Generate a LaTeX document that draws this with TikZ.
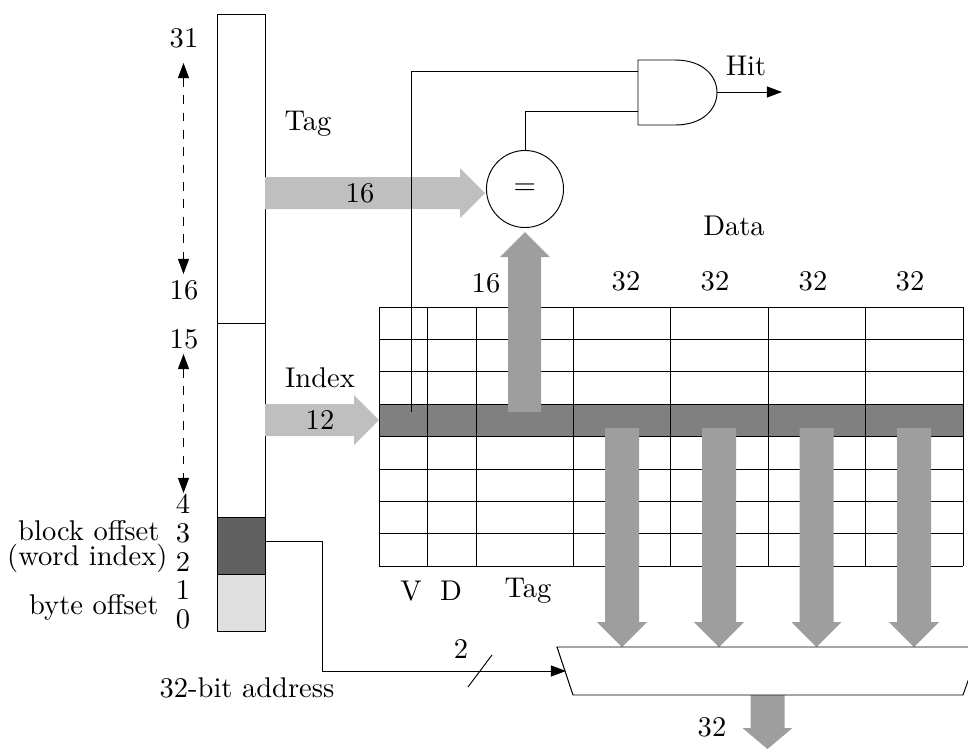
\documentclass[tikz,border=0pt]{standalone}
\usetikzlibrary{arrows.meta}
\newcommand{\bigarrowV}[5]{% x, y-from, y-to, head start, colour
  \fill[#5] (#1-17,#2) -- (#1+17,#2) -- (#1+17,#4) -- (#1+25,#4) -- (#1,#3) -- (#1-25,#4) -- (#1-17,#4) -- cycle;}
\tikzset{
  lbl/.style={inner sep=0pt,font=\fontsize{9.85}{11}\selectfont},
  wire/.style={line width=0.33pt,black},
  tipwire/.style={wire,-{Triangle[length=5.2pt,width=3.8pt]}},
  dashwire/.style={wire,dashed,{Triangle[length=5.2pt,width=3.8pt]}-{Triangle[length=5.2pt,width=3.8pt]}},
  gridline/.style={line width=0.33pt,black},
}
\begin{document}
\begin{tikzpicture}[x=0.3453pt,y=-0.3453pt]
\useasboundingbox (0,0) rectangle (968,749);
% address register
\fill[black!62] (217,517) rectangle (265,574);
\fill[black!12] (217,574) rectangle (265,631);
\draw[wire] (217,14) rectangle (265,631);
\draw[wire] (217,323) -- (265,323);
\draw[wire] (217,517) -- (265,517);
\draw[wire] (217,574) -- (265,574);
% table
\fill[black!50] (379,404) rectangle (963,436);
\foreach \y in {307,339,371,404,436,469,501,533,566} \draw[gridline] (379,\y) -- (963,\y);
\foreach \x in {379,427,476,573,670,768,865,963} \draw[gridline] (\x,307) -- (\x,566);
% wide arrows
\fill[black!25] (265,177) -- (460,177) -- (460,168) -- (485,193) -- (460,218) -- (460,209) -- (265,209) -- cycle;
\fill[black!25] (265,404) -- (354,404) -- (354,395) -- (379,420) -- (354,445) -- (354,436) -- (265,436) -- cycle;
\fill[black!38] (508,412) -- (508,257) -- (500,257) -- (525,232) -- (550,257) -- (541,257) -- (541,412) -- cycle;
\bigarrowV{622}{428}{647}{622}{black!38}
\bigarrowV{719}{428}{647}{622}{black!38}
\bigarrowV{816.5}{428}{647}{622}{black!38}
\bigarrowV{914}{428}{647}{622}{black!38}
\bigarrowV{767.5}{695}{749}{728}{black!38}
% comparator and gate
\node[draw,wire,circle,minimum size=26.6pt,inner sep=0pt,font=\fontsize{10}{12}\selectfont] (cmp) at (525,189) {$=$};
\draw[wire] (638,60) -- (675,60) .. controls (703,60) and (717,76) .. (717,92.5) .. controls (717,109) and (703,125) .. (675,125) -- (638,125) -- cycle;
\coordinate (andA) at (638,71);
\coordinate (andB) at (638,111);
\coordinate (andOut) at (717,92);
\coordinate (hitEnd) at (782,92);
\coordinate (vStart) at (411,412);
\draw[wire] (vStart) |- (andA);
\draw[wire] (cmp.north) |- (andB);
\draw[tipwire] (andOut) -- (hitEnd);
% mux
\begin{scope}
\clip (0,0) rectangle (968,749);
\draw[wire,fill=white] (557,647) -- (980,647) -- (963,695) -- (573,695) -- cycle;
\end{scope}
\coordinate (selStart) at (265,541);
\coordinate (selEnd) at (566,671);
\draw[tipwire] (selStart) -- (322,541) -- (322,671) -- (selEnd);
\coordinate (slashA) at (468,687);
\coordinate (slashB) at (492,655);
\draw[wire] (slashA) -- (slashB);
% dashed
\coordinate (da) at (183.5,63);
\coordinate (db) at (183.5,274);
\coordinate (dc) at (183.5,354);
\coordinate (dd) at (183.5,493);
\draw[dashwire] (da) -- (db);
\draw[dashwire] (dc) -- (dd);
% labels
\node[lbl] (n31) at (184,38) {31};
\node[lbl] (n16) at (184,290) {16};
\node[lbl] (n15) at (184,339) {15};
\node[lbl] (n4) at (183,504) {4};
\node[lbl] (n3) at (183,533) {3};
\node[lbl] (n2) at (183,562) {2};
\node[lbl] (n1) at (183,590) {1};
\node[lbl] (n0) at (183,619) {0};
\node[lbl,anchor=east] (blk) at (160,531) {block offset};
\node[lbl,anchor=east] (wrd) at (168,558) {(word index)};
\node[lbl,anchor=east] (byt) at (159,607) {byte offset};
\node[lbl] (addr) at (247,688) {32-bit address};
\node[lbl] (tagA) at (308,124) {Tag};
\node[lbl] (idx) at (320,378) {Index};
\node[lbl] (w16) at (360,193) {16};
\node[lbl] (w12) at (320,420) {12};
\node[lbl] (hit) at (746,66) {Hit};
\node[lbl] (data) at (734,226) {Data};
\node[lbl] (t16) at (486,283) {16};
\node[lbl] (d1) at (626,281) {32};
\node[lbl] (d2) at (715,281) {32};
\node[lbl] (d3) at (813,281) {32};
\node[lbl] (d4) at (910,281) {32};
\node[lbl] (cv) at (411,591) {V};
\node[lbl] (cd) at (451,591) {D};
\node[lbl] (ct) at (528,591) {Tag};
\node[lbl] (o32) at (712,727) {32};
\node[lbl] (s2) at (461,649) {2};
\end{tikzpicture}
\end{document}
